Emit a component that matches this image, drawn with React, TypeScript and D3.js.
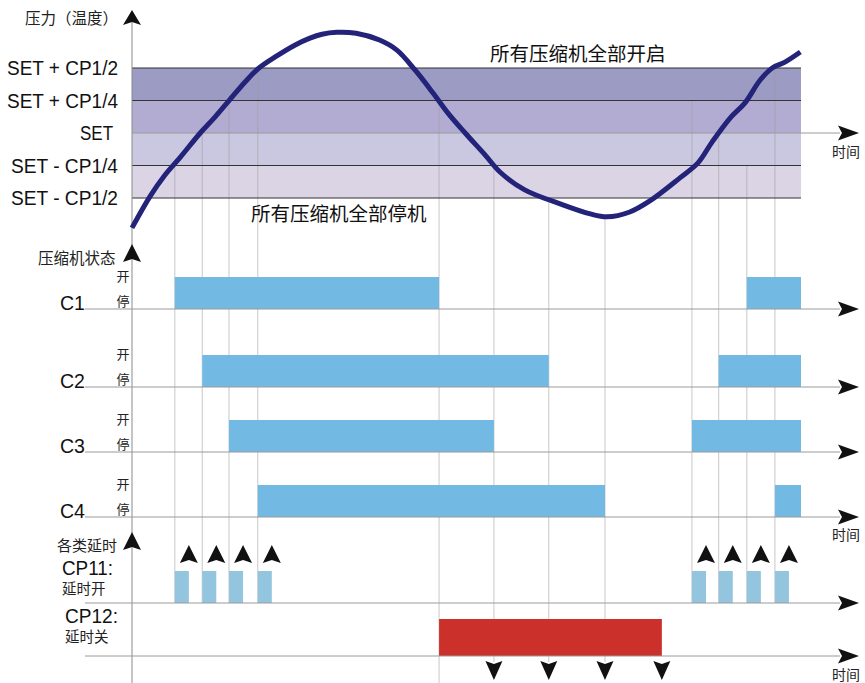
import React from "react";
import * as d3 from "d3";

// ---------- data ----------
const levelLabels = ["SET + CP1/2", "SET + CP1/4", "SET", "SET - CP1/4", "SET - CP1/2"];
const levelValues = [2, 1, 0, -1, -2];
const bandColors = ["#9b9bc3", "#b3acd2", "#c9c8e0", "#dbd4e5"];

// pressure curve: [time, level]
const curveT = [0, 2.7, 4.9, 7.2, 10.2, 12.4, 14.6, 16.9, 18.8, 21.4, 24.4, 26.6, 28.4, 30.6, 33.5, 37.0, 39.6, 42.3, 45.0, 47.2, 49.8, 52.8, 55.0, 58.7, 64.0, 68.5, 71.0, 74.4, 77.4, 81.9, 84.6, 86.7, 89.4, 91.6, 93.9, 95.7, 97.6, 99.9];
const curveV = [-2.92, -1.95, -1.3, -0.75, 0, 0.49, 1.02, 1.57, 1.97, 2.34, 2.71, 2.92, 3.04, 3.1, 3.07, 2.86, 2.55, 1.94, 1.23, 0.62, 0, -0.68, -1.20, -1.75, -2.18, -2.49, -2.58, -2.43, -2.09, -1.38, -0.92, -0.28, 0.46, 0.92, 1.63, 2.0, 2.18, 2.49];

const compressors = ["C1", "C2", "C3", "C4"];
const onStart = [6.4, 10.5, 14.5, 18.8];
const offAt = [45.9, 62.3, 54.1, 70.7];
const reStart = [91.9, 87.7, 83.7, 96.1];
const endTime = 100;

const cp11Width = 2.1;
const cp12Start = 45.9;
const cp12End = 79.2;
const cp12Ticks = [54.1, 62.3, 70.7, 79.2];

// ---------- layout ----------
const W = 865, H = 683;
const x = d3.scaleLinear().domain([0, 100]).range([132, 801]);
const y = d3.scaleLinear().domain([-2, 2]).range([198, 68]);
const rowBase = [309, 387, 452, 517];
const barH = 32;
const cp11Base = 603;
const cp12Base = 656;

const curvePts: [number, number][] = curveT.map((t, i) => [t, curveV[i]]);
const line = d3.line<[number, number]>().x(d => x(d[0])).y(d => y(d[1])).curve(d3.curveCatmullRom.alpha(0.5));

function curveAt(t: number) {
  const i = d3.bisector((d: [number, number]) => d[0]).left(curvePts, t);
  if (i <= 0) return curvePts[0][1];
  if (i >= curvePts.length) return curvePts[curvePts.length - 1][1];
  const a = curvePts[i - 1], b = curvePts[i];
  return a[1] + (b[1] - a[1]) * (t - a[0]) / (b[0] - a[0]);
}

const CJK = "'Noto Sans CJK SC', sans-serif";
const LAT = "'Liberation Sans', Arial, sans-serif";

function RightArrow({ tx, ty }: { tx: number; ty: number }) {
  return <path d={`M${tx},${ty} L${tx - 21},${ty - 7.5} L${tx - 17},${ty} L${tx - 21},${ty + 7.5} Z`} fill="#111" />;
}
function UpArrow({ tx, ty, h = 16, w = 9 }: { tx: number; ty: number; h?: number; w?: number }) {
  return <path d={`M${tx},${ty} L${tx + w},${ty + h} L${tx},${ty + h - 3} L${tx - w},${ty + h} Z`} fill="#111" />;
}
function DownArrow({ tx, ty, h = 19, w = 8.5 }: { tx: number; ty: number; h?: number; w?: number }) {
  return <path d={`M${tx},${ty} L${tx + w},${ty - h} L${tx},${ty - h + 3} L${tx - w},${ty - h} Z`} fill="#111" />;
}

export default function App() {
  const guideOn = onStart.map((t, i) => ({ t, top: y(levelValues[3 - i]), bottom: cp11Base }));
  const guideRe = reStart.map((t, i) => ({ t, top: y(levelValues[3 - i]), bottom: cp11Base }));
  const guideOff = [
    { t: cp12Start, top: y(curveAt(cp12Start)), bottom: 683 },
    ...cp12Ticks.slice(0, 3).map(t => ({ t, top: y(curveAt(t)), bottom: 662 })),
  ];
  const guides = [...guideOn, ...guideRe, ...guideOff];
  const labelLens = [111, 111, 33, 107, 107];

  return (
    <svg width={W} height={H} style={{ position: "absolute", left: 0, top: 0, background: "#fff" }}>
      {/* bands */}
      {bandColors.map((c, i) => (
        <rect key={i} x={x(0)} y={y(levelValues[i])} width={x(endTime) - x(0)} height={y(levelValues[i + 1]) - y(levelValues[i])} fill={c} />
      ))}
      {/* guides */}
      {guides.map((g, i) => (
        <line key={i} x1={x(g.t)} x2={x(g.t)} y1={g.top} y2={g.bottom} stroke="#9a9a9a" strokeOpacity={0.55} strokeWidth={1} />
      ))}
      {/* band lines */}
      {levelValues.map((v, i) =>
        v === 0 ? (
          <line key={i} x1={x(0)} x2={840} y1={y(v)} y2={y(v)} stroke="#9a9a9a" strokeWidth={1} />
        ) : (
          <line key={i} x1={x(0)} x2={x(endTime)} y1={y(v)} y2={y(v)} stroke="#333" strokeWidth={1.2} />
        )
      )}
      <RightArrow tx={859} ty={y(0)} />
      <text x={846} y={157} fontFamily={CJK} fontSize={14} textAnchor="middle" fill="#222">时间</text>
      {levelLabels.map((s, i) => (
        <text key={i} x={i === 2 ? 113 : 118} y={y(levelValues[i]) + 7} fontFamily={LAT} fontSize={20} textAnchor="end" fill="#111"
          textLength={labelLens[i]} lengthAdjust="spacingAndGlyphs">{s}</text>
      ))}
      {/* main axis */}
      <line x1={132} x2={132} y1={20} y2={683} stroke="#8a8a8a" strokeWidth={1} />
      <UpArrow tx={132} ty={10} h={15} />
      <text x={25} y={24} fontFamily={CJK} fontSize={15.5} fill="#222">压力（温度）</text>
      {/* curve */}
      <path d={line(curvePts) || ""} fill="none" stroke="#23237a" strokeWidth={5} />
      <text x={490} y={61} fontFamily={CJK} fontSize={19.5} fill="#111">所有压缩机全部开启</text>
      <text x={251} y={221} fontFamily={CJK} fontSize={19.5} fill="#111">所有压缩机全部停机</text>

      {/* compressor states */}
      <UpArrow tx={132} ty={244} h={18} />
      <text x={38} y={264} fontFamily={CJK} fontSize={15.5} fill="#222">压缩机状态</text>
      {compressors.map((c, i) => (
        <g key={c}>
          <rect x={x(onStart[i])} y={rowBase[i] - barH} width={x(offAt[i]) - x(onStart[i])} height={barH} fill="#72b9e3" />
          <rect x={x(reStart[i])} y={rowBase[i] - barH} width={x(endTime) - x(reStart[i])} height={barH} fill="#72b9e3" />
          <line x1={85} x2={840} y1={rowBase[i]} y2={rowBase[i]} stroke="#9a9a9a" strokeWidth={1} />
          <RightArrow tx={859} ty={rowBase[i]} />
          <text x={60} y={rowBase[i] + 1} fontFamily={LAT} fontSize={21} fill="#111" textLength={25} lengthAdjust="spacingAndGlyphs">{c}</text>
          <text x={123} y={rowBase[i] - 28} fontFamily={CJK} fontSize={13} textAnchor="middle" fill="#222">开</text>
          <text x={123} y={rowBase[i] - 3} fontFamily={CJK} fontSize={13} textAnchor="middle" fill="#222">停</text>
        </g>
      ))}
      <text x={846} y={540} fontFamily={CJK} fontSize={14} textAnchor="middle" fill="#222">时间</text>

      {/* delays */}
      <UpArrow tx={132} ty={532} h={18} />
      <text x={57} y={551} fontFamily={CJK} fontSize={15} fill="#222">各类延时</text>
      <text x={62} y={575} fontFamily={LAT} fontSize={20} fill="#111" textLength={51} lengthAdjust="spacingAndGlyphs">CP11:</text>
      <text x={62} y={594} fontFamily={CJK} fontSize={14.5} fill="#222">延时开</text>
      <text x={65} y={623} fontFamily={LAT} fontSize={20} fill="#111" textLength={53} lengthAdjust="spacingAndGlyphs">CP12:</text>
      <text x={65} y={642} fontFamily={CJK} fontSize={14.5} fill="#222">延时关</text>
      {[...onStart, ...reStart].map((t, i) => (
        <g key={i}>
          <rect x={x(t)} y={cp11Base - barH} width={x(t + cp11Width) - x(t)} height={barH} fill="#93c6de" />
          <UpArrow tx={x(t + cp11Width)} ty={545} h={18} />
        </g>
      ))}
      <line x1={85} x2={840} y1={cp11Base} y2={cp11Base} stroke="#9a9a9a" strokeWidth={1} />
      <RightArrow tx={859} ty={cp11Base} />
      <rect x={x(cp12Start)} y={cp12Base - 37} width={x(cp12End) - x(cp12Start)} height={37} fill="#cb302a" />
      <line x1={85} x2={840} y1={cp12Base} y2={cp12Base} stroke="#9a9a9a" strokeWidth={1} />
      <RightArrow tx={859} ty={cp12Base} />
      {cp12Ticks.map((t, i) => (
        <DownArrow key={i} tx={x(t)} ty={680} />
      ))}
      <text x={846} y={680} fontFamily={CJK} fontSize={14} textAnchor="middle" fill="#222">时间</text>
    </svg>
  );
}
